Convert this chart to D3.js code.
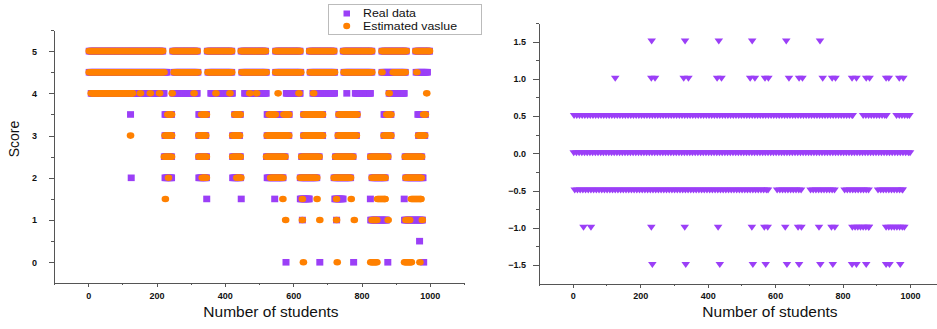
<!DOCTYPE html>
<html>
<head>
<meta charset="utf-8">
<script src="https://cdn.jsdelivr.net/npm/d3@7"></script>
<style>
  body { margin: 0; background: #fff; }
  svg { display: block; font-family: "Liberation Sans", Arial, sans-serif; }
  .axis path, .axis line { stroke: #555; stroke-width: 1; shape-rendering: crispEdges; }
  .axis text { font-size: 9px; font-weight: bold; fill: #111; }
</style>
</head>
<body>
<svg id="chart" width="937" height="329"></svg>
<script>
// ---- data ----
// student ticks and score ticks
const studentTicks = [0, 200, 400, 600, 800, 1000];
const studentMinor = [-100, 100, 300, 500, 700, 900, 1100];
const scoreTicks = [0, 1, 2, 3, 4, 5];
const scoreMinor = [0.5, 1.5, 2.5, 3.5, 4.5, 5.5];
const diffTicks = [-1.5, -1, -0.5, 0, 0.5, 1, 1.5];
const diffMinor = [-1.25, -0.75, -0.25, 0.25, 0.75, 1.25, 1.75];

// each row: [score, runs]; a run is a student index or [first, last] student index
const realData = [
  [5,   [[3, 218], [248, 319], [349, 420], [448, 519], [549, 620], [648, 719], [747, 830], [860, 931], [959, 999]]],
  [4.5, [[3, 231], [252, 321], [351, 420], [450, 521], [549, 622], [650, 721], [749, 830], [860, 928], [960, 993]]],
  [4,   [[9, 222], [248, 319], [359, 422], [458, 521], [580, 620], [658, 721], 757, [782, 826], [881, 925]]],
  [3.5, [124, [225, 244], [324, 346], [429, 445], [524, 588], [631, 686], [734, 787], [866, 886], [965, 987]]],
  [3,   [[225, 244], [324, 344], [423, 443], [524, 587], [631, 686], [732, 785], [866, 886], [967, 985]]],
  [2.5, [[223, 244], [324, 346], [423, 445], [522, 576], [625, 676], [724, 775], [827, 877], [928, 976]]],
  [2,   [126, [225, 244], [324, 346], [423, 446], [524, 570], [621, 669], [720, 768], [831, 869], [930, 980]]],
  [1.5, [347, 448, 546, [621, 647], [722, 746], 826, 925]],
  [1,   [627, 727, [827, 873], [926, 978]]],
  [0.5, [970]],
  [0,   [579, 678, 777, 877, 982]]
];

const estimatedData = [
  [5,   [[3, 218], [248, 319], [349, 420], [448, 519], [549, 620], [648, 719], [747, 830], [860, 931], [959, 999]]],
  [4.5, [[3, 222], [252, 321], [351, 420], [450, 521], [549, 622], [650, 721], [749, 830], 860, [893, 928], 962]],
  [4,   [[9, 130], 153, 182, 209, 246, 310, 374, 415, 473, 493, 556, 617, 660, 881, 991]],
  [3.5, [[233, 244], [332, 346], [429, 445], [530, 548], [573, 587], [631, 686], [734, 787], [874, 886], [982, 987]]],
  [3,   [124, [225, 244], [324, 344], [423, 443], [524, 587], [631, 686], [732, 785], [866, 886], [967, 985]]],
  [2.5, [[223, 244], [324, 346], [423, 445], [522, 576], [625, 676], [724, 775], [827, 877], [928, 976]]],
  [2,   [235, [334, 346], [435, 447], [534, 570], [621, 669], [720, 768], [831, 869], [930, 975]]],
  [1.5, [226, 570, 627, 670, 727, 770, [847, 869], [946, 974]]],
  [1,   [578, 627, 678, 727, 779, [831, 845], 878, [930, 941], 978]],
  [0,   [630, 729, [827, 845], [926, 946], 971]]
];

// real - estimated
const diffData = [
  [1.5,  [234, 333, 433, 532, 633, 733]],
  [1,    [126, 233, 244, 329, 343, 428, 441, 526, 540, 570, 580, 641, 671, 681, 741, 769, 779, 828, 841, 870, 880, 929, 937, 968, 980]],
  [0.5,  [[4, 830], [861, 930], [960, 998]]],
  [0,    [[3, 1000]]],
  [-0.5, [[6, 579], [606, 677], [705, 776], [806, 877], [905, 978]]],
  [-1,   [32, 54, 233, 332, 431, 531, 568, 578, 630, 668, 678, 730, 767, 777, [829, 878], [929, 983]]],
  [-1.5, [236, 335, 436, 534, 572, 635, 671, 734, 771, 828, 841, 870, 929, 939, 971]]
];

const legendLabels = ['Real data', 'Estimated vaslue'];

const purple = '#9b3ff7';
const orange = '#ff8000';

// runs -> one point per student in the run (every `step` students)
function toPoints(rows, step) {
  const pts = [];
  rows.forEach(([y, runs]) => {
    runs.forEach(r => {
      const a = Array.isArray(r) ? r[0] : r;
      const b = Array.isArray(r) ? r[1] : r;
      for (let s = a; s <= b; s += step) pts.push({ x: s, y: y });
      if ((b - a) % step) pts.push({ x: b, y: y });
    });
  });
  return pts;
}

const svg = d3.select('#chart');
svg.append('rect').attr('width', 937).attr('height', 329).attr('fill', '#fff');

// ---- left panel: score ----
const xL = d3.scaleLinear().domain([-100, 1100]).range([54, 464]);
const yL = d3.scaleLinear().domain([-0.5, 5.5]).range([283.4, 30]);

const gL = svg.append('g');
gL.selectAll('rect.real').data(toPoints(realData, 3)).enter().append('rect')
  .attr('class', 'real')
  .attr('x', d => xL(d.x) - 3.5).attr('y', d => yL(d.y) - 3.3)
  .attr('width', 7).attr('height', 6.6)
  .attr('fill', purple);
gL.selectAll('ellipse.est').data(toPoints(estimatedData, 3)).enter().append('ellipse')
  .attr('class', 'est')
  .attr('cx', d => xL(d.x)).attr('cy', d => yL(d.y))
  .attr('rx', 3.8).attr('ry', 3.3)
  .attr('fill', orange);

gL.append('g').attr('class', 'axis').attr('transform', 'translate(0,283.4)')
  .call(d3.axisBottom(xL).tickValues(studentMinor).tickSize(2).tickSizeOuter(0).tickFormat(''));
gL.append('g').attr('class', 'axis').attr('transform', 'translate(0,283.4)')
  .call(d3.axisBottom(xL).tickValues(studentTicks).tickSize(4).tickPadding(5).tickSizeOuter(0).tickFormat(d3.format('d')))
  .select('.domain').remove();
gL.append('g').attr('class', 'axis').attr('transform', 'translate(54,0)')
  .call(d3.axisLeft(yL).tickValues(scoreMinor).tickSize(3).tickSizeOuter(0).tickFormat(''));
gL.append('g').attr('class', 'axis').attr('transform', 'translate(54,0)')
  .call(d3.axisLeft(yL).tickValues(scoreTicks).tickSize(5).tickPadding(12).tickSizeOuter(0).tickFormat(d3.format('d')))
  .select('.domain').remove();

gL.append('text').attr('x', 271).attr('y', 317).attr('text-anchor', 'middle')
  .attr('font-size', 15.5).attr('fill', '#111').text('Number of students');
gL.append('text').attr('transform', 'translate(19,139) rotate(-90)').attr('text-anchor', 'middle')
  .attr('font-size', 14).attr('fill', '#111').text('Score');

// ---- right panel: difference ----
const xR = d3.scaleLinear().domain([-100, 1100]).range([539, 943.8]);
const yR = d3.scaleLinear().domain([-1.75, 1.75]).range([283.6, 23]);

const gR = svg.append('g');
gR.selectAll('path.diff').data(toPoints(diffData, 8)).enter().append('path')
  .attr('class', 'diff')
  .attr('d', 'M-4.3,-3L4.3,-3L0,3Z')
  .attr('transform', d => `translate(${xR(d.x)},${yR(d.y)})`)
  .attr('fill', purple);

gR.append('g').attr('class', 'axis').attr('transform', 'translate(0,283.6)')
  .call(d3.axisBottom(xR).tickValues(studentMinor).tickSize(2).tickSizeOuter(0).tickFormat(''));
gR.append('g').attr('class', 'axis').attr('transform', 'translate(0,283.6)')
  .call(d3.axisBottom(xR).tickValues(studentTicks).tickSize(4).tickPadding(5).tickSizeOuter(0).tickFormat(d3.format('d')))
  .select('.domain').remove();
gR.append('g').attr('class', 'axis').attr('transform', 'translate(539,0)')
  .call(d3.axisLeft(yR).tickValues(diffMinor).tickSize(3).tickSizeOuter(0).tickFormat(''));
gR.append('g').attr('class', 'axis').attr('transform', 'translate(539,0)')
  .call(d3.axisLeft(yR).tickValues(diffTicks).tickSize(6).tickPadding(7).tickSizeOuter(0).tickFormat(d3.format('.1f')))
  .select('.domain').remove();

gR.append('text').attr('x', 770).attr('y', 317).attr('text-anchor', 'middle')
  .attr('font-size', 15.5).attr('fill', '#111').text('Number of students');

// ---- legend ----
const lg = svg.append('g');
lg.append('rect').attr('x', 328.5).attr('y', 4.5).attr('width', 153).attr('height', 30)
  .attr('fill', '#fff').attr('stroke', '#bbb').attr('stroke-width', 1);
lg.append('rect').attr('x', 343.5).attr('y', 10.5).attr('width', 6.5).attr('height', 6).attr('fill', purple);
lg.append('ellipse').attr('cx', 346.7).attr('cy', 26).attr('rx', 3.5).attr('ry', 3.3).attr('fill', orange);
lg.selectAll('text').data(legendLabels).enter().append('text')
  .attr('x', 363).attr('y', (d, i) => 17 + i * 12.6)
  .attr('font-size', 10.8).attr('fill', '#111')
  .attr('textLength', (d, i) => i === 0 ? 53 : 94)
  .attr('lengthAdjust', 'spacingAndGlyphs')
  .text(d => d);
</script>
</body>
</html>
